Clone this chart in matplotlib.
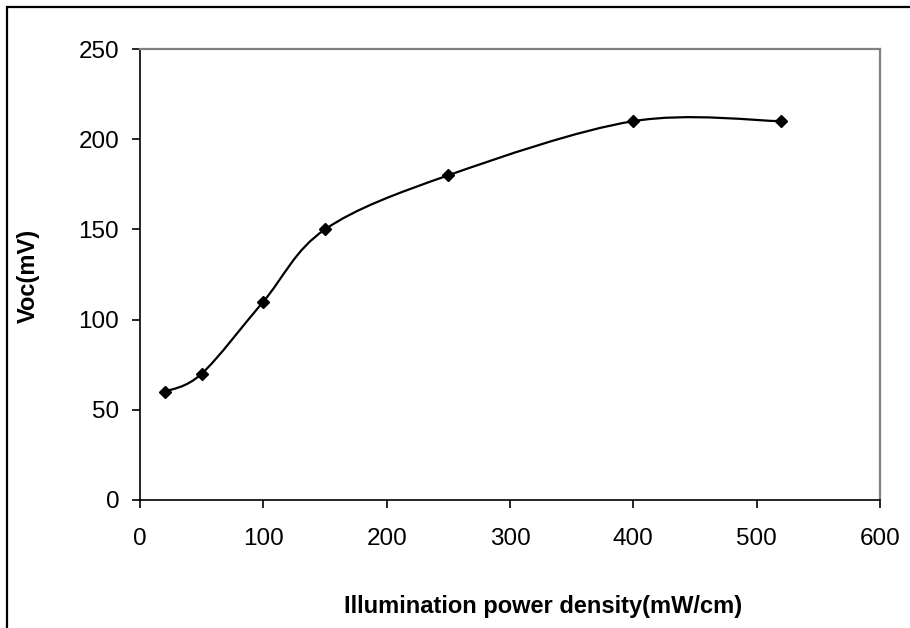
import matplotlib

matplotlib.use("Agg")
import matplotlib.pyplot as plt
import numpy as np
from matplotlib.patches import PathPatch, Rectangle
from matplotlib.path import Path

plt.rcParams["font.family"] = ["Liberation Sans", "DejaVu Sans"]

# data
power = [20, 50, 100, 150, 250, 400, 520]
voc = [60, 70, 110, 150, 180, 210, 210]
x_ticks = [0, 100, 200, 300, 400, 500, 600]
y_ticks = [0, 50, 100, 150, 200, 250]

W, H = 910, 628


def smooth_path(xs, ys):
    """Excel-like smoothed line: cubic Bezier segments through the points."""
    pts = np.column_stack([xs, ys]).astype(float)
    n = len(pts)
    verts = [pts[0]]
    codes = [Path.MOVETO]
    for i in range(n - 1):
        p0 = pts[i - 1] if i > 0 else pts[i]
        p1 = pts[i]
        p2 = pts[i + 1]
        p3 = pts[i + 2] if i + 2 < n else pts[i + 1]
        c1 = p1 + (p2 - p0) / 6.0
        c2 = p2 - (p3 - p1) / 6.0
        verts += [c1, c2, p2]
        codes += [Path.CURVE4] * 3
    return Path(verts, codes)


fig = plt.figure(figsize=(W / 100, H / 100), dpi=100, facecolor="white")

# outer chart border (cropped on right/bottom in the reference)
fig.patches.append(
    Rectangle((7 / W, -0.1), 1.2, 1 - 7 / H + 0.1, transform=fig.transFigure,
              fill=False, edgecolor="black", linewidth=1.6)
)

ax = fig.add_axes([140 / W, 1 - 500 / H, 740 / W, 451 / H])
ax.add_patch(PathPatch(smooth_path(power, voc), fill=False, edgecolor="black",
                       linewidth=1.6, zorder=2))
ax.plot(power, voc, linestyle="none", marker="D", markersize=6.5, color="black", zorder=3)

ax.set_xlim(0, 600)
ax.set_ylim(0, 250)
ax.set_xticks(x_ticks)
ax.set_yticks(y_ticks)
ax.tick_params(direction="out", length=6, width=1.2, labelsize=17.5, color="black")
ax.tick_params(axis="x", pad=14)
ax.tick_params(axis="y", pad=9)

for side in ("top", "right"):
    ax.spines[side].set_color("#808080")
    ax.spines[side].set_linewidth(1.6)
for side in ("left", "bottom"):
    ax.spines[side].set_color("black")
    ax.spines[side].set_linewidth(1.2)

fig.text(28 / W, 1 - 276 / H, "Voc(mV)", rotation=90, ha="center", va="center",
         fontsize=17, fontweight="bold")
fig.text(543 / W, 1 - 607 / H, "Illumination power density(mW/cm)", ha="center",
         va="center", fontsize=17, fontweight="bold")

fig.savefig("out.png", dpi=100, facecolor="white")
